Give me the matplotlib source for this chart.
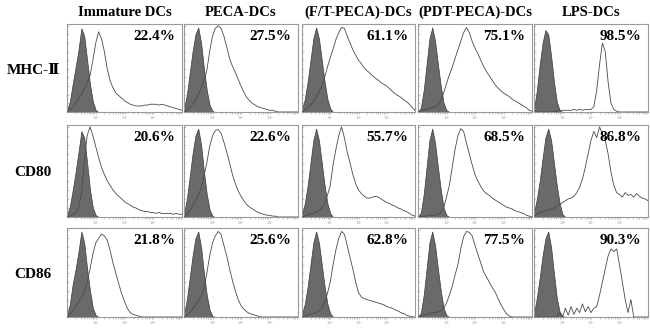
import matplotlib
matplotlib.use("Agg")
import matplotlib.pyplot as plt
import numpy as np

# ---------------------------------------------------------------
# Daten: Histogramme (rel. Zellzahl) auf 41 Bins, 10^0 .. 10^4
# ---------------------------------------------------------------
col_titles = ["Immature DCs", "PECA-DCs", "(F/T-PECA)-DCs", "(PDT-PECA)-DCs", "LPS-DCs"]
row_labels = ["MHC-\u2161", "CD80", "CD86"]
percents = [
    ["22.4%", "27.5%", "61.1%", "75.1%", "98.5%"],
    ["20.6%", "22.6%", "55.7%", "68.5%", "86.8%"],
    ["21.8%", "25.6%", "62.8%", "77.5%", "90.3%"],
]
decade_labels = ["$10^1$", "$10^2$", "$10^3$"]

z = [0.0] * 30  # trailing zeros of the isotype curves

# isotype controls (filled grey)
iso_11 = [0.02, 0.12, 0.33, 0.52, 0.72, 0.97, 0.88, 0.6, 0.32, 0.12, 0.02] + z
iso_12 = [0.03, 0.2, 0.45, 0.7, 0.9, 0.98, 0.8, 0.5, 0.25, 0.08, 0.01] + z
iso_13 = [0.03, 0.15, 0.35, 0.6, 0.85, 0.98, 0.85, 0.6, 0.35, 0.15, 0.04] + z
iso_14 = [0.0, 0.05, 0.25, 0.55, 0.85, 0.98, 0.82, 0.55, 0.3, 0.1, 0.02] + z
iso_15 = [0.03, 0.25, 0.55, 0.8, 0.95, 0.9, 0.65, 0.35, 0.12, 0.02, 0.0] + z
iso_21 = [0.02, 0.12, 0.3, 0.5, 0.72, 0.95, 0.88, 0.6, 0.3, 0.1, 0.02] + z
iso_22 = [0.03, 0.2, 0.45, 0.7, 0.9, 0.98, 0.8, 0.5, 0.25, 0.08, 0.01] + z
iso_23 = [0.03, 0.15, 0.35, 0.6, 0.85, 0.98, 0.85, 0.6, 0.35, 0.15, 0.04] + z
iso_24 = [0.0, 0.05, 0.25, 0.55, 0.85, 0.98, 0.82, 0.55, 0.3, 0.1, 0.02] + z
iso_25 = [0.05, 0.2, 0.4, 0.65, 0.88, 0.98, 0.85, 0.6, 0.35, 0.15, 0.03] + z
iso_31 = [0.02, 0.15, 0.38, 0.55, 0.75, 0.98, 0.85, 0.55, 0.3, 0.1, 0.02] + z
iso_32 = [0.03, 0.2, 0.45, 0.7, 0.9, 0.98, 0.8, 0.5, 0.25, 0.08, 0.01] + z
iso_33 = [0.03, 0.15, 0.35, 0.6, 0.85, 0.98, 0.85, 0.6, 0.35, 0.15, 0.04] + z
iso_34 = [0.0, 0.05, 0.25, 0.55, 0.85, 0.98, 0.82, 0.55, 0.3, 0.1, 0.02] + z
iso_35 = [0.04, 0.22, 0.45, 0.7, 0.9, 0.98, 0.8, 0.5, 0.22, 0.06, 0.01] + z

# stained samples (open line)
smp_11 = [0.0, 0.03, 0.06, 0.1, 0.15, 0.2, 0.27, 0.34, 0.42, 0.6, 0.8, 0.93, 0.85, 0.7, 0.5, 0.36,
          0.28, 0.22, 0.19, 0.16, 0.13, 0.11, 0.09, 0.08, 0.07, 0.07, 0.07, 0.08, 0.08, 0.09, 0.09,
          0.09, 0.08, 0.09, 0.08, 0.07, 0.06, 0.05, 0.04, 0.03, 0.02]
smp_12 = [0.0, 0.02, 0.05, 0.09, 0.14, 0.2, 0.28, 0.36, 0.48, 0.7, 0.88, 0.97, 1.0, 0.97, 0.88, 0.75,
          0.62, 0.53, 0.46, 0.38, 0.3, 0.23, 0.17, 0.13, 0.1, 0.08, 0.06, 0.05, 0.04, 0.03, 0.02,
          0.02, 0.01, 0.0, 0.0, 0.0, 0.0, 0.0, 0.0, 0.0, 0.0]
smp_13 = [0.0, 0.02, 0.05, 0.08, 0.12, 0.17, 0.23, 0.3, 0.4, 0.52, 0.63, 0.73, 0.84, 0.92, 0.98, 0.97,
          0.88, 0.8, 0.72, 0.66, 0.6, 0.56, 0.51, 0.48, 0.45, 0.42, 0.39, 0.37, 0.34, 0.32, 0.3,
          0.27, 0.24, 0.21, 0.19, 0.17, 0.14, 0.12, 0.09, 0.05, 0.02]
smp_14 = [0.0, 0.01, 0.02, 0.03, 0.04, 0.05, 0.06, 0.08, 0.13, 0.22, 0.33, 0.43, 0.52, 0.62, 0.72, 0.82,
          0.92, 0.98, 0.92, 0.82, 0.74, 0.68, 0.6, 0.53, 0.47, 0.42, 0.37, 0.32, 0.28, 0.25, 0.22,
          0.2, 0.18, 0.15, 0.13, 0.11, 0.09, 0.07, 0.05, 0.02, 0.01]
smp_15 = [0.0, 0.0, 0.0, 0.0, 0.0, 0.0, 0.0, 0.0, 0.01, 0.02, 0.02, 0.02, 0.02, 0.02, 0.03, 0.02,
          0.03, 0.02, 0.03, 0.03, 0.03, 0.06, 0.25, 0.55, 0.8, 0.7, 0.35, 0.1, 0.03, 0.01, 0.0,
          0.0, 0.0, 0.0, 0.0, 0.0, 0.0, 0.0, 0.0, 0.0, 0.0]
smp_21 = [0.0, 0.01, 0.03, 0.05, 0.1, 0.25, 0.6, 0.9, 1.0, 0.9, 0.78, 0.66, 0.55, 0.47, 0.4, 0.35,
          0.3, 0.26, 0.23, 0.2, 0.17, 0.15, 0.13, 0.11, 0.1, 0.08, 0.07, 0.06, 0.06, 0.05, 0.05,
          0.04, 0.05, 0.04, 0.04, 0.04, 0.04, 0.03, 0.04, 0.03, 0.03]
smp_22 = [0.0, 0.03, 0.07, 0.12, 0.18, 0.24, 0.32, 0.45, 0.6, 0.78, 0.9, 0.96, 0.97, 0.93, 0.83, 0.72,
          0.6, 0.47, 0.37, 0.29, 0.23, 0.18, 0.14, 0.11, 0.09, 0.07, 0.05, 0.04, 0.03, 0.02, 0.02,
          0.01, 0.01, 0.0, 0.0, 0.0, 0.0, 0.0, 0.0, 0.0, 0.0]
smp_23 = [0.0, 0.01, 0.02, 0.03, 0.04, 0.05, 0.07, 0.1, 0.15, 0.24, 0.35, 0.58, 0.75, 0.9, 1.0, 0.88,
          0.72, 0.6, 0.47, 0.37, 0.3, 0.26, 0.23, 0.21, 0.21, 0.22, 0.23, 0.22, 0.2, 0.18, 0.16,
          0.15, 0.13, 0.12, 0.1, 0.09, 0.07, 0.06, 0.04, 0.02, 0.01]
smp_24 = [0.0, 0.0, 0.01, 0.01, 0.02, 0.02, 0.02, 0.03, 0.05, 0.1, 0.22, 0.35, 0.55, 0.75, 0.9, 0.98,
          0.95, 0.82, 0.7, 0.58, 0.47, 0.4, 0.34, 0.29, 0.26, 0.24, 0.21, 0.19, 0.17, 0.15, 0.13,
          0.11, 0.1, 0.09, 0.07, 0.06, 0.05, 0.04, 0.02, 0.01, 0.0]
smp_25 = [0.01, 0.03, 0.05, 0.06, 0.07, 0.08, 0.09, 0.1, 0.12, 0.14, 0.16, 0.18, 0.2, 0.21, 0.23, 0.27,
          0.33, 0.42, 0.55, 0.7, 0.85, 0.95, 0.88, 1.0, 0.92, 0.85, 0.7, 0.5, 0.35, 0.27, 0.25,
          0.22, 0.27, 0.24, 0.25, 0.22, 0.26, 0.23, 0.21, 0.2, 0.18]
smp_31 = [0.0, 0.03, 0.07, 0.12, 0.17, 0.22, 0.3, 0.4, 0.55, 0.72, 0.85, 0.9, 0.95, 0.93, 0.88, 0.76,
          0.62, 0.5, 0.38, 0.27, 0.18, 0.1, 0.05, 0.03, 0.02, 0.01, 0.0, 0.0, 0.0, 0.0, 0.0,
          0.0, 0.0, 0.0, 0.0, 0.0, 0.0, 0.0, 0.0, 0.0, 0.0]
smp_32 = [0.0, 0.02, 0.05, 0.09, 0.13, 0.18, 0.24, 0.32, 0.5, 0.7, 0.85, 0.93, 0.98, 0.95, 0.82, 0.7,
          0.55, 0.42, 0.3, 0.2, 0.13, 0.09, 0.06, 0.04, 0.03, 0.02, 0.01, 0.0, 0.0, 0.0, 0.0,
          0.0, 0.0, 0.0, 0.0, 0.0, 0.0, 0.0, 0.0, 0.0, 0.0]
smp_33 = [0.0, 0.01, 0.02, 0.03, 0.04, 0.05, 0.07, 0.1, 0.17, 0.27, 0.4, 0.6, 0.77, 0.9, 0.98, 0.95,
          0.82, 0.68, 0.55, 0.4, 0.28, 0.23, 0.21, 0.2, 0.19, 0.18, 0.17, 0.16, 0.15, 0.14, 0.12,
          0.11, 0.1, 0.08, 0.07, 0.05, 0.04, 0.02, 0.01, 0.0, 0.0]
smp_34 = [0.0, 0.01, 0.02, 0.03, 0.04, 0.05, 0.05, 0.06, 0.07, 0.1, 0.16, 0.25, 0.35, 0.48, 0.6, 0.78,
          0.92, 0.98, 0.97, 0.93, 0.82, 0.72, 0.62, 0.52, 0.46, 0.4, 0.34, 0.29, 0.22, 0.15, 0.09,
          0.04, 0.01, 0.0, 0.0, 0.0, 0.0, 0.0, 0.0, 0.0, 0.0]
smp_35 = [0.0, 0.0, 0.0, 0.0, 0.0, 0.0, 0.0, 0.0, 0.0, 0.05, 0.0, 0.1, 0.02, 0.12, 0.03, 0.1,
          0.05, 0.15, 0.06, 0.12, 0.05, 0.1, 0.12, 0.25, 0.4, 0.55, 0.7, 0.78, 0.75, 0.78, 0.6,
          0.4, 0.2, 0.05, 0.2, 0.0, 0.0, 0.0, 0.0, 0.0, 0.0]

iso = [[iso_11, iso_12, iso_13, iso_14, iso_15],
       [iso_21, iso_22, iso_23, iso_24, iso_25],
       [iso_31, iso_32, iso_33, iso_34, iso_35]]
smp = [[smp_11, smp_12, smp_13, smp_14, smp_15],
       [smp_21, smp_22, smp_23, smp_24, smp_25],
       [smp_31, smp_32, smp_33, smp_34, smp_35]]

# ---------------------------------------------------------------
# Layout (Pixel-Positionen der Panels)
# ---------------------------------------------------------------
W, H = 650, 333
col_px = [(67, 182), (184, 298), (302, 415), (418, 532), (534, 648)]
row_px = [(24, 112), (125, 217), (228, 317)]

FILL = "#6a6a6a"
EDGE = "#3a3a3a"
LINE = "#4a4a4a"
SERIF = ["Liberation Serif", "DejaVu Serif"]

fig = plt.figure(figsize=(W / 100, H / 100), dpi=100)

xbins = 10 ** (np.arange(41) * 0.1)

for r, (top, bot) in enumerate(row_px):
    for c, (lft, rgt) in enumerate(col_px):
        ax = fig.add_axes([lft / W, 1 - bot / H, (rgt - lft) / W, (bot - top) / H])
        ax.fill_between(xbins, 0, iso[r][c], color=FILL, edgecolor=EDGE, linewidth=0.5, zorder=2)
        ax.plot(xbins, smp[r][c], color=LINE, linewidth=0.6, zorder=3)
        ax.set_xscale("log")
        ax.set_xlim(1, 1e4)
        ax.set_ylim(0, 1.02)
        ax.set_xticks([10, 100, 1000])
        ax.set_xticklabels(decade_labels)
        for s in ax.spines.values():
            s.set_color("#9a9a9a")
            s.set_linewidth(0.8)
        ax.tick_params(axis="x", which="both", direction="out", colors="#9a9a9a",
                       labelsize=2.5, length=1.5, width=0.4, pad=0.5)
        ax.tick_params(axis="y", which="both", direction="in", colors="#9a9a9a",
                       length=1.2, width=0.4, labelleft=False)
        ax.set_yticks(np.arange(0, 1.01, 0.1))
        ax.text(0.94, 0.93, percents[r][c], transform=ax.transAxes, ha="right", va="top",
                fontsize=11, fontweight="bold", family=SERIF, zorder=5)

# Spaltentitel
for c, (lft, rgt) in enumerate(col_px):
    fig.text((lft + rgt) / 2 / W, 1 - 12 / H, col_titles[c], ha="center", va="center",
             fontsize=10.5, fontweight="bold", family=SERIF)

# Zeilenbeschriftung
for r, (top, bot) in enumerate(row_px):
    fig.text(33 / W, 1 - ((top + bot) / 2 + 2) / H, row_labels[r], ha="center", va="center",
             fontsize=11, fontweight="bold", family=SERIF)

fig.savefig("out.png", dpi=100)
